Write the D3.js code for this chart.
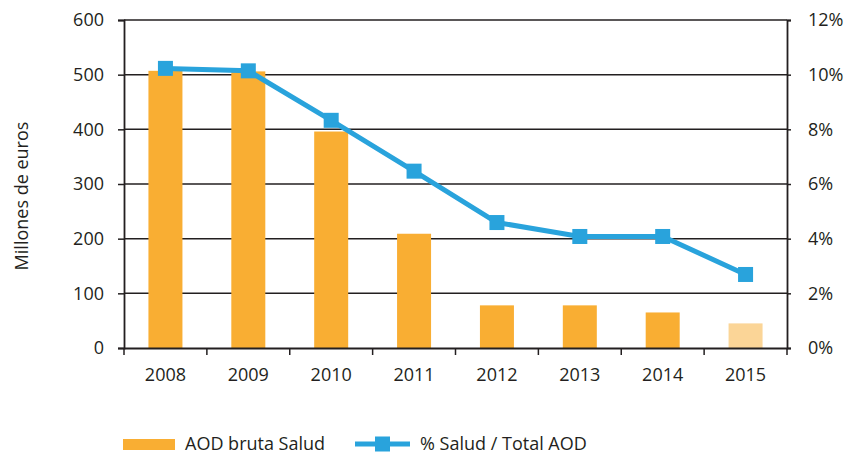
<!DOCTYPE html>
<html>
<head>
<meta charset="utf-8">
<script src="https://cdn.jsdelivr.net/npm/d3@7"></script>
<style>
  body { margin: 0; background: #fff; }
  text { font-family: "Open Sans", sans-serif; fill: #231f20; }
</style>
</head>
<body>
<div id="chart"></div>
<script>
var years = ["2008", "2009", "2010", "2011", "2012", "2013", "2014", "2015"];
var aodSalud = [507, 506, 396, 209, 78, 78, 65, 45];
var pctSalud = [10.23, 10.14, 8.33, 6.47, 4.59, 4.08, 4.08, 2.69];
var leftTicks = [0, 100, 200, 300, 400, 500, 600];
var rightTicks = [0, 2, 4, 6, 8, 10, 12];

var margin = { left: 124, right: 68, top: 20, bottom: 106 };
var width = 855 - margin.left - margin.right;
var height = 454 - margin.top - margin.bottom;

var svg = d3.select("#chart").append("svg")
	.attr("width", 855)
	.attr("height", 454);

var g = svg.append("g")
	.attr("transform", "translate(" + margin.left + "," + margin.top + ")");

var xc = d3.scaleBand().domain(years).range([0, width]);
var y = d3.scaleLinear().domain([0, 600]).range([height, 0]);
var y2 = d3.scaleLinear().domain([0, 12]).range([height, 0]);

// gridlines
g.selectAll(".grid")
	.data(leftTicks.slice(1))
	.enter().append("line")
		.attr("x1", 0)
		.attr("x2", width)
		.attr("y1", function(d) { return y(d); })
		.attr("y2", function(d) { return y(d); })
		.attr("stroke", "#231f20")
		.attr("stroke-width", 1.5);

// bars
g.selectAll(".bar")
	.data(years)
	.enter().append("rect")
		.attr("x", function(d) { return xc(d) + xc.bandwidth() / 2 - 17; })
		.attr("width", 34)
		.attr("y", function(d, i) { return y(aodSalud[i]); })
		.attr("height", function(d, i) { return height - y(aodSalud[i]); })
		.attr("fill", function(d, i) { return i == 7 ? "#fbd597" : "#f9ae33"; });

// left axis
var yAxis = g.append("g")
	.call(d3.axisLeft(y).tickValues(leftTicks).tickSize(6).tickPadding(14));
yAxis.select(".domain").attr("stroke", "#231f20").attr("stroke-width", 1.8);
yAxis.selectAll(".tick line").attr("stroke", "#231f20").attr("stroke-width", 1.5);
yAxis.selectAll("text").style("font-size", "18px").attr("fill", "#231f20");

// right axis
var y2Axis = g.append("g")
	.attr("transform", "translate(" + width + ",0)")
	.call(d3.axisRight(y2).tickValues(rightTicks).tickSize(4).tickPadding(17)
		.tickFormat(function(d) { return d + "%"; }));
y2Axis.select(".domain").attr("stroke", "#231f20").attr("stroke-width", 1.8);
y2Axis.selectAll(".tick line").attr("stroke", "#231f20").attr("stroke-width", 1.5);
y2Axis.selectAll("text").style("font-size", "18px").attr("fill", "#231f20");

// x axis
var xAxis = g.append("g")
	.attr("transform", "translate(0," + height + ")")
	.call(d3.axisBottom(xc).tickSize(0).tickPadding(20));
xAxis.select(".domain").attr("stroke", "#231f20").attr("stroke-width", 1.8);
xAxis.selectAll("text").style("font-size", "18px").attr("fill", "#231f20");

// category boundary ticks
g.selectAll(".xtick")
	.data(years.concat(["end"]))
	.enter().append("line")
		.attr("x1", function(d, i) { return i * xc.bandwidth(); })
		.attr("x2", function(d, i) { return i * xc.bandwidth(); })
		.attr("y1", height)
		.attr("y2", height + 7)
		.attr("stroke", "#231f20")
		.attr("stroke-width", 1.5);

// line
var line = d3.line()
	.x(function(d, i) { return xc(years[i]) + xc.bandwidth() / 2; })
	.y(function(d) { return y2(d); });

g.append("path")
	.datum(pctSalud)
	.attr("d", line)
	.attr("fill", "none")
	.attr("stroke", "#29a3dc")
	.attr("stroke-width", 5);

g.selectAll(".marker")
	.data(pctSalud)
	.enter().append("rect")
		.attr("x", function(d, i) { return xc(years[i]) + xc.bandwidth() / 2 - 7.5; })
		.attr("y", function(d) { return y2(d) - 7.5; })
		.attr("width", 15)
		.attr("height", 15)
		.attr("fill", "#29a3dc");

// y label
svg.append("text")
	.attr("transform", "translate(28," + (margin.top + height / 2 + 12) + ") rotate(-90)")
	.attr("text-anchor", "middle")
	.style("font-size", "18px")
	.text("Millones de euros");

// legend
var lg = svg.append("g").attr("transform", "translate(0,444)");
lg.append("rect")
	.attr("x", 123).attr("y", -5).attr("width", 52).attr("height", 11)
	.attr("fill", "#f9ae33");
lg.append("text")
	.attr("x", 185).attr("y", 6)
	.style("font-size", "18px")
	.text("AOD bruta Salud");
lg.append("line")
	.attr("x1", 355).attr("x2", 410).attr("y1", 0).attr("y2", 0)
	.attr("stroke", "#29a3dc").attr("stroke-width", 5);
lg.append("rect")
	.attr("x", 375).attr("y", -7.5).attr("width", 15).attr("height", 15)
	.attr("fill", "#29a3dc");
lg.append("text")
	.attr("x", 420).attr("y", 6)
	.style("font-size", "18px")
	.text("% Salud / Total AOD");
</script>
</body>
</html>
